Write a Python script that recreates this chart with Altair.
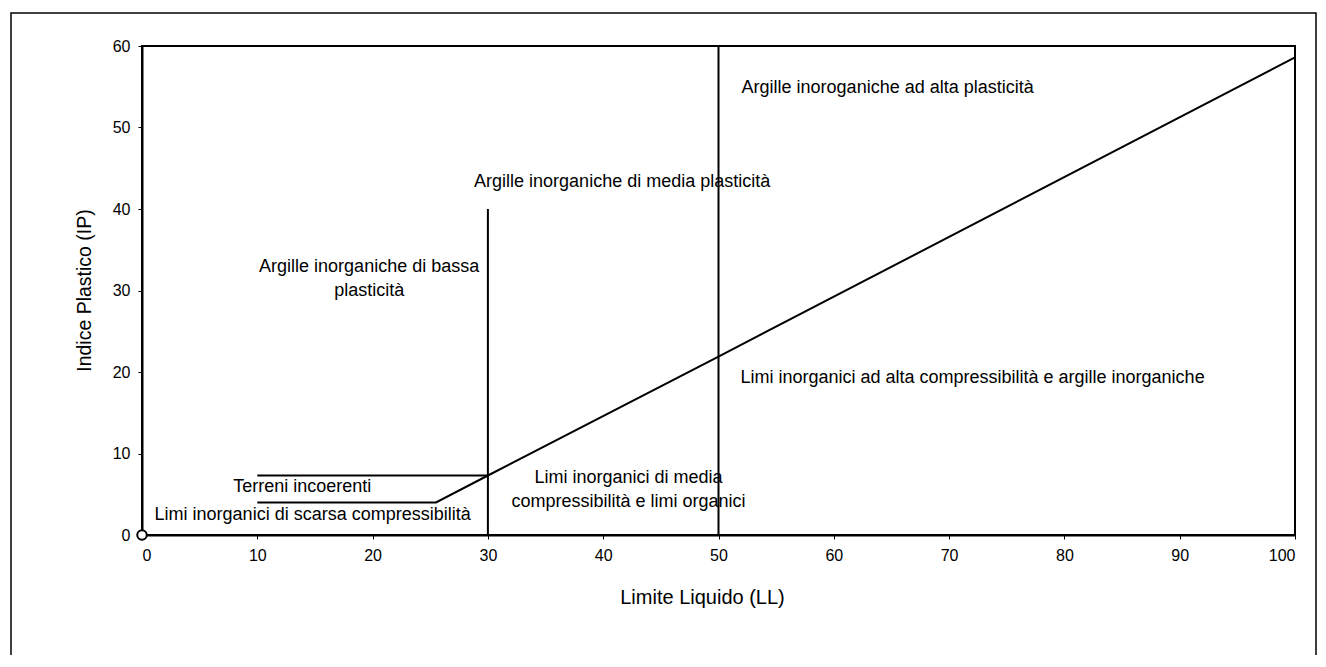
import altair as alt
import pandas as pd

# Boundary lines of the plasticity chart (LL, IP)
seg_ids = ["v30", "v30", "v50", "v50", "h75", "h75", "aline", "aline", "aline", "aline", "aline"]
seg_ll = [30, 30, 50, 50, 10, 30, 10, 25.5, 30, 50, 100]
seg_ip = [0, 40, 0, 60, 7.3, 7.3, 4, 4, 7.3, 21.9, 58.6]
seg_order = [0, 1, 0, 1, 0, 1, 0, 1, 2, 3, 4]

# Zone labels (left-aligned)
lab_text = [
    "Argille inoroganiche ad alta plasticità",
    "Argille inorganiche di media plasticità",
    "Limi inorganici ad alta compressibilità e argille inorganiche",
]
lab_ll = [52.0, 28.8, 51.9]
lab_ip = [54.8, 43.3, 19.3]

# Zone labels (centred)
clab_text = [
    "Argille inorganiche di bassa",
    "plasticità",
    "Limi inorganici di media",
    "compressibilità e limi organici",
    "Terreni incoerenti",
    "Limi inorganici di scarsa compressibilità",
]
clab_ll = [19.7, 19.7, 42.2, 42.2, 13.9, 14.8]
clab_ip = [32.9, 30.0, 7.0, 4.0, 5.9, 2.4]

x_domain = [0, 100]
y_domain = [0, 60]
x_ticks = [0, 10, 20, 30, 40, 50, 60, 70, 80, 90, 100]
y_ticks = [0, 10, 20, 30, 40, 50, 60]

FONT = "Liberation Sans"

segs = pd.DataFrame({"id": seg_ids, "LL": seg_ll, "IP": seg_ip, "o": seg_order})
labs = pd.DataFrame({"t": lab_text, "LL": lab_ll, "IP": lab_ip})
clabs = pd.DataFrame({"t": clab_text, "LL": clab_ll, "IP": clab_ip})
origin = pd.DataFrame({"LL": [0], "IP": [0]})
box = pd.DataFrame({"x1": [x_domain[0]], "x2": [x_domain[1]],
                    "y1": [y_domain[0]], "y2": [y_domain[1]]})

xs = alt.Scale(domain=x_domain, nice=False)
ys = alt.Scale(domain=y_domain, nice=False)

x_enc = alt.X("LL:Q", scale=xs, axis=alt.Axis(
    title="Limite Liquido (LL)", values=x_ticks, grid=False,
    tickSize=4, labelPadding=8, labelFontSize=16, labelFont=FONT,
    titleFont=FONT, titleFontSize=20, titleFontWeight="normal",
    titleX=560, titleY=62, titleAlign="center", titleBaseline="middle",
    domainColor="black", tickColor="black", labelColor="black",
    titleColor="black", domainWidth=2))
y_enc = alt.Y("IP:Q", scale=ys, axis=alt.Axis(
    title="Indice Plastico (IP)", values=y_ticks, grid=False,
    tickSize=4, labelPadding=8, labelFontSize=16, labelFont=FONT,
    titleFont=FONT, titleFontSize=19.5, titleFontWeight="normal",
    titleX=-58, titleY=244, titleAngle=270, titleAlign="center",
    titleBaseline="middle", domainColor="black", tickColor="black",
    labelColor="black", titleColor="black", domainWidth=2))

frame = alt.Chart(origin).mark_rect(fill=None, stroke="black", strokeWidth=1.5).encode(
    x=alt.value(-131), x2=alt.value(1174), y=alt.value(-33), y2=alt.value(650)
)

plotbox = alt.Chart(box).mark_rect(fill=None, stroke="black", strokeWidth=2).encode(
    x=alt.X("x1:Q", scale=xs), x2="x2:Q",
    y=alt.Y("y1:Q", scale=ys), y2="y2:Q"
)

lines = alt.Chart(segs).mark_line(color="black", strokeWidth=2).encode(
    x=x_enc, y=y_enc, detail="id:N", order="o:Q"
)

pt = alt.Chart(origin).mark_point(shape="circle", size=90, filled=True,
                                  fill="white", stroke="black", strokeWidth=2,
                                  opacity=1).encode(
    x=alt.X("LL:Q", scale=xs), y=alt.Y("IP:Q", scale=ys))

left_txt = alt.Chart(labs).mark_text(align="left", baseline="middle", font=FONT,
                                     fontSize=18, color="black").encode(
    x=alt.X("LL:Q", scale=xs), y=alt.Y("IP:Q", scale=ys), text="t:N")

center_txt = alt.Chart(clabs).mark_text(align="center", baseline="middle", font=FONT,
                                        fontSize=18, color="black").encode(
    x=alt.X("LL:Q", scale=xs), y=alt.Y("IP:Q", scale=ys), text="t:N")

chart = alt.layer(frame, plotbox, lines, pt, left_txt, center_txt).properties(
    width=1153, height=489,
    background="white",
    autosize=alt.AutoSizeParams(type="none"),
    padding={"left": 134, "top": 38, "right": 23, "bottom": 120},
).configure_view(stroke=None)

chart.save("out.html", embed_options={"renderer": "svg", "actions": False})
